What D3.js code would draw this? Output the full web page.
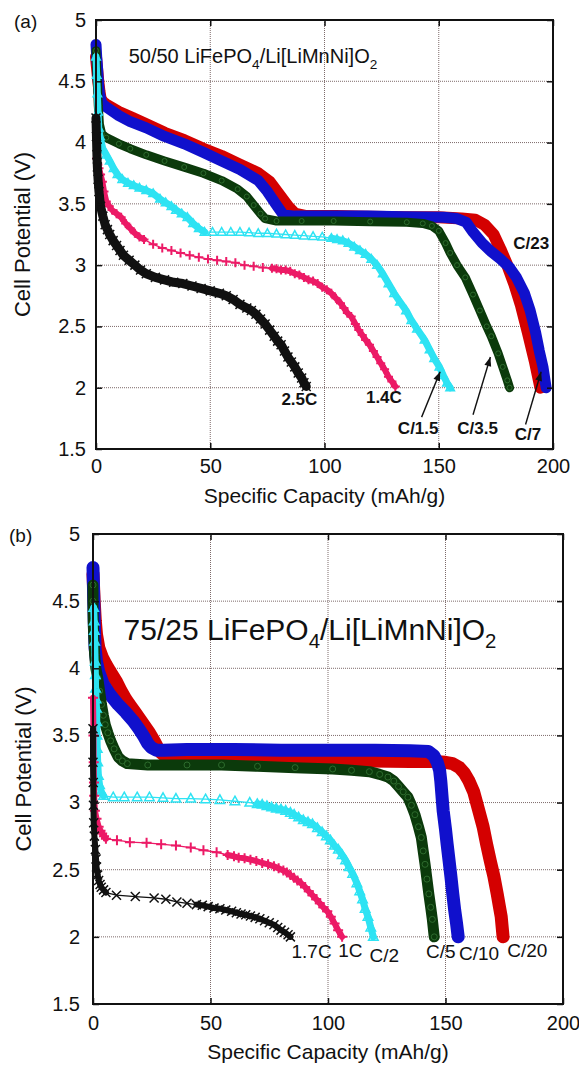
<!DOCTYPE html>
<html><head><meta charset="utf-8">
<script src="https://cdn.jsdelivr.net/npm/d3@7"></script>
<style>
body{margin:0;background:#fff}
svg{display:block}
text{font-family:"Liberation Sans",Arial,Helvetica,sans-serif;fill:#111}
</style>
</head><body>
<svg id="c" width="579" height="1066"></svg>
<script>
// ---------------- DATA ----------------
const xTicks = [0, 50, 100, 150, 200];
const xTickLabels = ["0", "50", "100", "150", "200"];
const yTicks = [1.5, 2, 2.5, 3, 3.5, 4, 4.5, 5];
const yTickLabels = ["1.5", "2", "2.5", "3", "3.5", "4", "4.5", "5"];
const xTitle = "Specific Capacity (mAh/g)";
const yTitle = "Cell Potential (V)";

// Panel (a): 50/50 blend, rates
const aRates = ["C/23", "C/7", "C/3.5", "C/1.5", "1.4C", "2.5C"];
const a_C23 = [[0,4.7],[0.5,4.6],[1,4.5],[1.5,4.42],[2,4.36],[3,4.33],[4.5,4.31],[10,4.25],[16,4.2],[22,4.15],[30,4.08],[38.6,4.02],[47,3.95],[55,3.89],[63,3.82],[71,3.75],[76,3.68],[80,3.58],[84,3.48],[87,3.42],[92,3.40],[105,3.40],[120,3.395],[135,3.39],[150,3.39],[160,3.38],[166,3.37],[170,3.33],[174,3.25],[177,3.13],[180,3.0],[183,2.85],[186,2.67],[189,2.45],[192,2.22],[194.5,2.0]];
const a_C7 = [[0,4.8],[0.3,4.7],[0.7,4.6],[1,4.5],[1.5,4.4],[2.5,4.32],[4.5,4.29],[10,4.22],[15,4.17],[22,4.12],[30,4.05],[38.6,3.99],[47,3.92],[55,3.85],[63,3.78],[71,3.69],[75,3.6],[79,3.49],[82,3.41],[87,3.40],[100,3.40],[119,3.40],[135,3.395],[152,3.39],[158,3.38],[162,3.35],[165,3.27],[169,3.18],[173,3.11],[177,3.05],[181,2.98],[184,2.9],[187.5,2.77],[190,2.63],[192.4,2.45],[194,2.3],[195.6,2.17],[197,2.0]];
const a_C35 = [[0,4.75],[0.3,4.6],[0.7,4.45],[1,4.3],[1.5,4.15],[2.5,4.07],[4.5,4.04],[10,3.99],[15,3.95],[22,3.9],[30,3.85],[38.6,3.8],[47,3.75],[55,3.69],[62,3.62],[66,3.56],[69,3.49],[72,3.42],[74,3.38],[79,3.36],[90,3.36],[104,3.36],[120,3.355],[136,3.35],[143,3.34],[147,3.32],[150,3.28],[153,3.18],[155,3.1],[158,3.0],[161.6,2.9],[165,2.76],[168,2.63],[171,2.5],[173,2.42],[176,2.28],[178,2.17],[180,2.06],[181,2.0]];
const a_C15 = [[0,4.7],[0.3,4.55],[0.6,4.4],[0.9,4.25],[1.2,4.12],[1.7,4.05],[3,3.95],[4.5,3.9],[6,3.85],[7.7,3.79],[9.4,3.74],[11.5,3.7],[14,3.67],[16.5,3.65],[19,3.63],[22,3.61],[25,3.585],[28,3.54],[30.5,3.51],[33,3.48],[35,3.45],[37.5,3.42],[40,3.39],[42.5,3.34],[45,3.3],[47.5,3.27],
  [51,3.27],[55,3.27],[59,3.27],[63,3.27],[67,3.265],[71,3.26],[75,3.26],[79,3.255],[83,3.25],[87,3.245],[91,3.24],[95,3.235],[99,3.23],[103,3.22],
  [105.5,3.21],[108,3.2],[110.5,3.18],[113,3.15],[115.5,3.12],[118,3.09],[120.5,3.05],[123,3.0],[125.5,2.93],[128,2.85],[130.5,2.77],[133,2.7],[135.7,2.63],[138,2.55],[140.5,2.48],[143.8,2.39],[146,2.31],[148,2.24],[150.3,2.17],[152,2.1],[153.6,2.04],[155,2.0]];
const a_14C = [[0.3,3.87],[0.8,3.82],[1.3,3.79],[2,3.74],[2.8,3.68],[3.5,3.6],[4.5,3.52],[5.8,3.48],[7,3.45],[9,3.42],[11,3.39],[13,3.34],[15,3.3],[17,3.26],[19,3.23],[21,3.21],
  [25,3.17],[29,3.14],[33,3.12],[37,3.1],[41,3.08],[45,3.065],[49,3.05],[53,3.04],[57,3.03],[61,3.02],[65,3.0],[69,2.99],[73,2.98],[77,2.975],
  [79,2.97],[81,2.96],[83,2.96],[85,2.95],[87,2.93],[89,2.92],[91,2.9],[93,2.88],[95,2.87],[97,2.85],[99,2.82],[101,2.8],[103,2.77],[105,2.73],[107,2.69],[108.5,2.65],[110,2.61],[111.7,2.58],[113.5,2.52],[115,2.47],[116.5,2.43],[118,2.39],[119.7,2.35],[121.4,2.3],[123,2.25],[124.6,2.2],[126.3,2.15],[128,2.09],[129.5,2.05],[131,2.01]];
const a_25C = [[0,4.2],[0.2,4.05],[0.4,3.9],[0.6,3.8],[0.9,3.7],[1.3,3.6],[2,3.48],[3,3.4],[4,3.33],[5,3.29],[6,3.25],[7.5,3.2],[9,3.16],[10.5,3.12],[12,3.08],[14.5,3.04],[17,3.0],[19.5,2.96],[22,2.93],[26,2.9],[30,2.88],[34,2.86],[38,2.85],[42,2.83],[46,2.81],[50,2.79],[54,2.77],[57,2.75],[60,2.72],[63,2.68],[66,2.65],[68,2.63],[70,2.6],[72,2.56],[74,2.52],[76,2.47],[78,2.42],[79.5,2.38],[81,2.35],[82.5,2.3],[84,2.25],[85.5,2.21],[87,2.17],[88.5,2.12],[90,2.08],[91,2.04],[92,2.01]];

// Panel (b): 75/25 blend, rates
const bRates = ["C/20", "C/10", "C/5", "C/2", "1C", "1.7C"];
const b_C20 = [[0,4.7],[0.5,4.5],[1,4.35],[1.5,4.25],[2.5,4.15],[4,4.08],[5.5,4.03],[7.5,3.97],[10,3.9],[12,3.83],[14,3.77],[16,3.72],[18,3.67],[20,3.62],[22,3.57],[24,3.52],[26,3.46],[27.5,3.41],[29,3.37],[31,3.34],[35,3.33],[45,3.33],[60,3.33],[80,3.33],[100,3.32],[118,3.31],[135,3.305],[145,3.305],[150,3.30],[153,3.29],[156,3.26],[158,3.22],[160,3.16],[162,3.08],[164,2.95],[166,2.82],[167.5,2.69],[169,2.57],[170.6,2.45],[172,2.32],[173,2.22],[173.7,2.15],[174.5,2.0]];
const b_C10 = [[0,4.75],[0.2,4.6],[0.4,4.45],[0.6,4.3],[0.9,4.15],[1.5,4.05],[2.5,3.97],[4.4,3.88],[7,3.81],[10.7,3.73],[14,3.67],[17,3.61],[19.5,3.55],[21.7,3.49],[23.3,3.44],[24.8,3.41],[27,3.39],[30,3.39],[40,3.395],[60,3.395],[80,3.39],[100,3.39],[120,3.39],[135,3.385],[142.8,3.38],[145,3.35],[146.5,3.3],[147.5,3.24],[148,3.16],[148.5,3.05],[149,2.94],[150,2.8],[150.7,2.69],[151.5,2.57],[152.3,2.45],[153.1,2.32],[153.9,2.2],[154.7,2.1],[155.4,2.0]];
const b_C5 = [[0,4.62],[0,4.5],[0.1,4.35],[0.3,4.25],[0.7,4.1],[1.2,4.0],[2,3.93],[2.8,3.83],[3.6,3.73],[4.4,3.65],[5.2,3.58],[6.3,3.52],[7.5,3.46],[9,3.4],[10.7,3.34],[12.5,3.31],[14.6,3.29],[23.3,3.28],[40,3.28],[54.7,3.28],[70,3.27],[86,3.26],[102,3.25],[110,3.24],[117.6,3.23],[122,3.21],[125.5,3.19],[128,3.16],[130,3.12],[132,3.08],[134,3.04],[135.5,2.98],[137,2.91],[138.5,2.82],[139.7,2.74],[140.5,2.64],[141.3,2.54],[142.1,2.43],[142.9,2.32],[143.7,2.22],[144.4,2.13],[145.2,2.0]];
const b_C2 = [[0.3,4.45],[0.5,4.35],[0.6,4.28],[0.7,4.2],[0.9,4.05],[1,3.95],[1.1,3.85],[1.3,3.77],[1.5,3.7],[1.6,3.6],[1.7,3.5],[1.8,3.4],[2,3.3],[2.3,3.2],[2.8,3.13],[3.5,3.08],[4.5,3.05],
  [8.6,3.04],[13.3,3.04],[18.8,3.04],[24,3.04],[29.8,3.035],[35.3,3.03],[41.6,3.03],[47.9,3.025],[54,3.02],[60.4,3.01],[66.7,3.0],
  [69.9,2.99],[72,2.985],[74,2.975],[76,2.965],[78,2.955],[80,2.95],[82,2.94],[84,2.925],[85.6,2.91],[87.5,2.89],[89.5,2.87],[91.5,2.855],[93.4,2.84],[95.5,2.81],[97.5,2.78],[99.3,2.75],[101,2.72],[102.7,2.68],[104.4,2.65],[106,2.61],[107.5,2.57],[109,2.52],[110.5,2.47],[112.3,2.4],[113.5,2.34],[114.7,2.28],[115.8,2.21],[117,2.15],[118.2,2.07],[119.3,2.0]];
const b_1C = [[0,3.78],[0.2,3.5],[0.3,3.3],[0.4,3.15],[0.5,3.05],[0.8,2.94],[1.5,2.88],[2.4,2.82],[3.2,2.79],[3.9,2.77],[4.7,2.75],[5.5,2.73],
  [10.2,2.72],[15.7,2.705],[22.8,2.70],[29,2.69],[35.3,2.68],[41.6,2.665],[47,2.645],[52.6,2.63],[57.3,2.61],
  [60,2.6],[62,2.59],[64.5,2.585],[67,2.575],[69.5,2.565],[72,2.55],[74.5,2.54],[77,2.525],[79,2.51],[81,2.495],[82.5,2.48],[84,2.46],[85.5,2.44],[87,2.42],[88.5,2.4],[90.3,2.37],[91.8,2.34],[93.4,2.31],[95,2.28],[96.5,2.25],[98,2.22],[99.7,2.19],[101.2,2.15],[102.8,2.1],[104.3,2.05],[106,2.0]];
const b_17C = [[0,3.55],[0,3.3],[0.1,3.15],[0.2,2.98],[0.3,2.85],[0.6,2.75],[1,2.65],[1.3,2.58],[1.5,2.52],[2,2.46],[2.4,2.42],[3,2.39],[3.5,2.37],[4.5,2.35],[5.5,2.33],
  [10,2.31],[18,2.30],[26,2.29],[31,2.28],[35.7,2.26],[40,2.25],[44,2.24],
  [46.5,2.235],[49,2.225],[51.5,2.215],[54,2.21],[56.5,2.2],[59,2.19],[61,2.18],[63,2.17],[65,2.165],[67,2.155],[69,2.145],[71,2.135],[73,2.12],[75,2.105],[77,2.09],[78.6,2.07],[80,2.05],[81.5,2.035],[83,2.015],[84,2.0]];

// ---------------- DRAWING ----------------
const svg = d3.select("#c");

const markerPath = {
  plus: r => `M${-r},0H${r}M0,${-r}V${r}`,
  times: r => `M${-r},${-r}L${r},${r}M${-r},${r}L${r},${-r}`,
  tri: r => `M0,${-r}L${r*0.95},${r*0.7}L${-r*0.95},${r*0.7}Z`,
  circle: r => `M${r},0A${r},${r} 0 1,1 ${-r},0A${r},${r} 0 1,1 ${r},0Z`,
  square: r => `M${-r},${-r}H${r}V${r}H${-r}Z`
};

function drawSeries(g, x, y, s) {
  const d = s.data;
  const runs = [];
  let cur = null;
  for (let i = 1; i < d.length; i++) {
    const thick = !s.gap || (d[i][0] - d[i-1][0]) < s.gap;
    if (!cur || cur.thick !== thick) { cur = {thick, pts: [d[i-1]]}; runs.push(cur); }
    cur.pts.push(d[i]);
  }
  const line = d3.line().x(p => x(p[0])).y(p => y(p[1]));
  const gg = g.append("g");
  gg.selectAll("path.thin").data(runs.filter(r => !r.thick)).join("path")
    .attr("d", r => line(r.pts)).attr("fill", "none")
    .attr("stroke", s.color).attr("stroke-width", 1.3);
  gg.selectAll("path.thick").data(runs.filter(r => r.thick)).join("path")
    .attr("d", r => line(r.pts)).attr("fill", "none")
    .attr("stroke", s.color).attr("stroke-width", s.band)
    .attr("stroke-linecap", "round").attr("stroke-linejoin", "round");
  if (s.marker) {
    gg.selectAll("path.m").data(d).join("path")
      .attr("transform", p => `translate(${x(p[0])},${y(p[1])})`)
      .attr("d", markerPath[s.marker](s.mr))
      .attr("fill", s.mfill || "none")
      .attr("stroke", s.mstroke || s.color)
      .attr("stroke-width", s.msw || 1.8);
  }
}

function panel(cfg) {
  const x = d3.scaleLinear().domain([0, 200]).range([cfg.l, cfg.r]);
  const y = d3.scaleLinear().domain([1.5, 5]).range([cfg.b, cfg.t]);
  const g = svg.append("g");

  // grid
  g.append("g").selectAll("line").data(xTicks.slice(1, -1)).join("line")
    .attr("x1", d => x(d)).attr("x2", d => x(d)).attr("y1", cfg.t).attr("y2", cfg.b)
    .attr("stroke", "#7d6a6a").attr("stroke-width", 1).attr("stroke-dasharray", "1,1");
  g.append("g").selectAll("line").data(yTicks.slice(1, -1)).join("line")
    .attr("y1", d => y(d)).attr("y2", d => y(d)).attr("x1", cfg.l).attr("x2", cfg.r)
    .attr("stroke", "#7d6a6a").attr("stroke-width", 1).attr("stroke-dasharray", "1,1");

  // series
  cfg.series.forEach(s => drawSeries(g, x, y, s));

  // axes
  const fy = d => yTickLabels[yTicks.indexOf(d)];
  const fx = d => xTickLabels[xTicks.indexOf(d)];
  const styleAxis = sel => {
    sel.select(".domain").remove();
    sel.selectAll(".tick line").attr("stroke", "#111").attr("stroke-width", 1.5);
    sel.selectAll("text").attr("font-size", cfg.tickFont).attr("fill", "#111")
      .attr("font-family", '"Liberation Sans",Arial,sans-serif');
  };
  g.append("g").attr("transform", `translate(${cfg.l},0)`)
    .call(d3.axisLeft(y).tickValues(yTicks).tickFormat(fy).tickSize(-6).tickPadding(cfg.padY)).call(styleAxis);
  g.append("g").attr("transform", `translate(${cfg.r},0)`)
    .call(d3.axisRight(y).tickValues(yTicks).tickFormat("").tickSize(-6)).call(styleAxis);
  g.append("g").attr("transform", `translate(0,${cfg.b})`)
    .call(d3.axisBottom(x).tickValues(xTicks).tickFormat(fx).tickSize(-6).tickPadding(cfg.padX)).call(styleAxis);
  g.append("g").attr("transform", `translate(0,${cfg.t})`)
    .call(d3.axisTop(x).tickValues(xTicks).tickFormat("").tickSize(-6)).call(styleAxis);

  // frame
  g.append("rect").attr("x", cfg.l).attr("y", cfg.t).attr("width", cfg.r - cfg.l).attr("height", cfg.b - cfg.t)
    .attr("fill", "none").attr("stroke", "#111").attr("stroke-width", 2);

  // titles
  g.append("text").attr("x", (cfg.l + cfg.r) / 2).attr("y", cfg.xTitleY).attr("text-anchor", "middle")
    .attr("font-size", cfg.titleFont).text(xTitle);
  g.append("text").attr("transform", `translate(${cfg.yTitleX},${(cfg.t + cfg.b) / 2}) rotate(-90)`)
    .attr("text-anchor", "middle").attr("dy", "0.35em").attr("font-size", cfg.yTitleFont).text(yTitle);
  g.append("text").attr("x", cfg.tagX).attr("y", cfg.tagY).attr("font-size", 19).text(cfg.tag);

  // composition annotation
  const ann = g.append("text").attr("x", x(cfg.ann.x)).attr("y", y(cfg.ann.v)).attr("font-size", cfg.ann.size);
  cfg.ann.parts.forEach(p => {
    if (p.sub) {
      ann.append("tspan").attr("font-size", cfg.ann.size * 0.68).attr("dy", cfg.ann.size * 0.28).text(p.t);
    } else {
      ann.append("tspan").attr("dy", p.after ? -cfg.ann.size * 0.28 : 0).text(p.t);
    }
  });

  // rate labels
  cfg.labels.forEach(lb => {
    g.append("text").attr("x", x(lb.x)).attr("y", y(lb.v)).attr("dy", "0.35em")
      .attr("text-anchor", "middle").attr("font-size", cfg.labelFont)
      .attr("font-weight", cfg.labelWeight).text(lb.t);
  });
  (cfg.arrows || []).forEach(a => {
    const x1 = x(a[0][0]), y1 = y(a[0][1]), x2 = x(a[1][0]), y2 = y(a[1][1]);
    g.append("line").attr("x1", x1).attr("y1", y1).attr("x2", x2).attr("y2", y2)
      .attr("stroke", "#111").attr("stroke-width", 1.4);
    const ang = Math.atan2(y2 - y1, x2 - x1);
    const L = 9, Wd = 3.5;
    const p1 = [x2 - L * Math.cos(ang) + Wd * Math.sin(ang), y2 - L * Math.sin(ang) - Wd * Math.cos(ang)];
    const p2 = [x2 - L * Math.cos(ang) - Wd * Math.sin(ang), y2 - L * Math.sin(ang) + Wd * Math.cos(ang)];
    g.append("path").attr("d", `M${x2},${y2}L${p1[0]},${p1[1]}L${p2[0]},${p2[1]}Z`).attr("fill", "#111");
  });
}

const colRed = "#d40000", colBlue = "#1010cc", colGreen = "#0b3a0b",
      colCyan = "#2ee3f3", colPink = "#ec1a66", colBlack = "#111";

panel({
  l: 96, r: 553, t: 20, b: 449, padY: 10, padX: 10, tickFont: 20,
  xTitleY: 503, titleFont: 21, yTitleX: 22, yTitleFont: 22,
  tag: "(a)", tagX: 14, tagY: 28,
  ann: {x: 14.3, v: 4.65, size: 20, parts: [{t: "50/50 LiFePO"}, {t: "4", sub: true}, {t: "/Li[LiMnNi]O", after: true}, {t: "2", sub: true}]},
  labelFont: 17, labelWeight: "bold",
  series: [
    {data: a_C23, color: colRed, band: 12},
    {data: a_C7, color: colBlue, band: 11},
    {data: a_C35, color: colGreen, band: 9, marker: "circle", mr: 2.5, mstroke: "#2d6b2d", msw: 1},
    {data: a_C15, color: colCyan, band: 7, gap: 3.5, marker: "tri", mr: 4.5, msw: 1.5},
    {data: a_14C, color: colPink, band: 6, gap: 3.5, marker: "plus", mr: 4.5, msw: 2},
    {data: a_25C, color: colBlack, band: 9, marker: "times", mr: 4.5, msw: 1.5}
  ],
  labels: [
    {t: aRates[0], x: 190.5, v: 3.18},
    {t: aRates[5], x: 89, v: 1.91},
    {t: aRates[4], x: 126, v: 1.92},
    {t: aRates[3], x: 141, v: 1.67},
    {t: aRates[2], x: 167, v: 1.67},
    {t: aRates[1], x: 189, v: 1.62}
  ],
  arrows: [[[142.5, 1.76], [150.6, 2.13]], [[165, 1.78], [172.6, 2.25]], [[188, 1.70], [194.8, 2.13]]]
});

panel({
  l: 93, r: 563, t: 534, b: 1004, padY: 13, padX: 12, tickFont: 20,
  xTitleY: 1059, titleFont: 21, yTitleX: 23, yTitleFont: 22,
  tag: "(b)", tagX: 9, tagY: 542,
  ann: {x: 13, v: 4.21, size: 30, parts: [{t: "75/25 LiFePO"}, {t: "4", sub: true}, {t: "/Li[LiMnNi]O", after: true}, {t: "2", sub: true}]},
  labelFont: 19, labelWeight: "normal",
  series: [
    {data: b_C20, color: colRed, band: 13},
    {data: b_C10, color: colBlue, band: 13},
    {data: b_C5, color: colGreen, band: 11, marker: "circle", mr: 3, mstroke: "#2d6b2d", msw: 1},
    {data: b_C2, color: colCyan, band: 7, gap: 3, marker: "tri", mr: 5, msw: 1.5},
    {data: b_1C, color: colPink, band: 6, gap: 3, marker: "plus", mr: 5, msw: 2},
    {data: b_17C, color: colBlack, band: 6, gap: 3, marker: "times", mr: 4.5, msw: 1.5}
  ],
  labels: [
    {t: bRates[5], x: 93, v: 1.89},
    {t: bRates[4], x: 109.5, v: 1.90},
    {t: bRates[3], x: 124, v: 1.865},
    {t: bRates[2], x: 148, v: 1.89},
    {t: bRates[1], x: 164.3, v: 1.88},
    {t: bRates[0], x: 184.8, v: 1.90}
  ]
});
</script>
</body></html>
